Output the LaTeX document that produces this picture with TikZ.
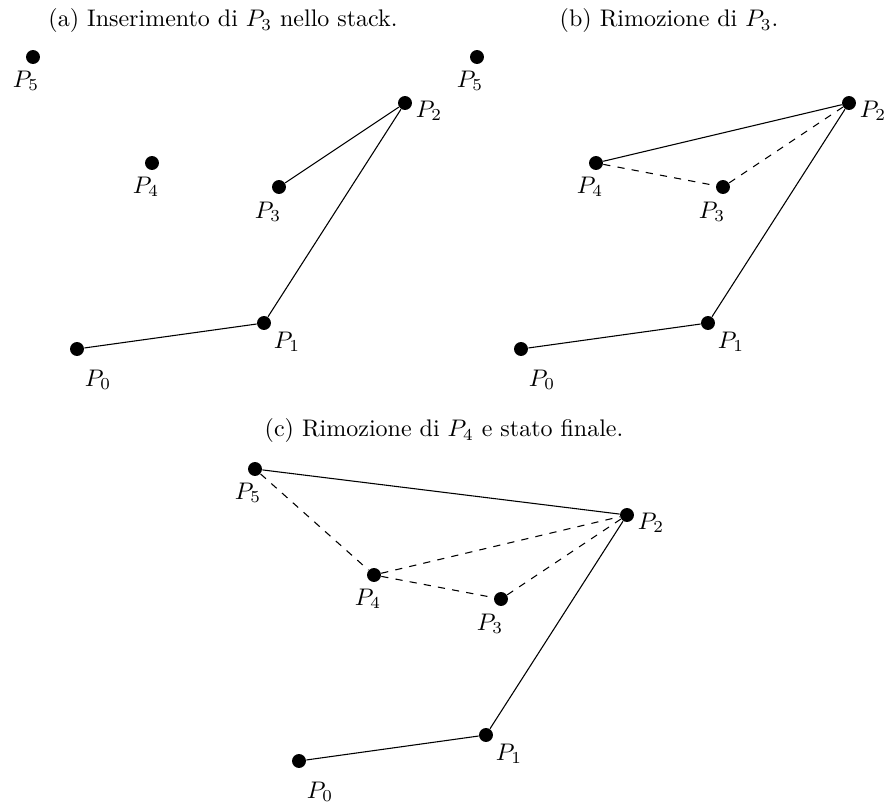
\documentclass[tikz,border=0pt]{standalone}
\begin{document}
\begin{tikzpicture}[x=0.41667pt,y=-0.41667pt,
  dot/.style={circle,fill=black,inner sep=0pt,minimum size=5.8pt},
  lab/.style={inner sep=0pt},
  seg/.style={line width=0.45pt},
  dseg/.style={line width=0.45pt,dashed},
  ttl/.style={anchor=base,inner sep=0pt}]
\useasboundingbox (0,0) rectangle (885,802);
\newcommand\mypts[1]{%
  \node[dot] (#1p0) at (77,349) {};
  \node[dot] (#1p1) at (264,323) {};
  \node[dot] (#1p2) at (405,103) {};
  \node[dot] (#1p3) at (279,187) {};
  \node[dot] (#1p4) at (152,163) {};
  \node[dot] (#1p5) at (33,57) {};
  \node[lab] (#1l0) at ([shift={(21,31)}]#1p0.center) {$P_0$};
  \node[lab] (#1l1) at ([shift={(23,19)}]#1p1.center) {$P_1$};
  \node[lab] (#1l2) at ([shift={(24,8)}]#1p2.center) {$P_2$};
  \node[lab] (#1l3) at ([shift={(-11,25)}]#1p3.center) {$P_3$};
  \node[lab] (#1l4) at ([shift={(-6,24)}]#1p4.center) {$P_4$};
  \node[lab] (#1l5) at ([shift={(-7,24)}]#1p5.center) {$P_5$};
}
% (a)
\node[ttl] (ta) at (223,27) {(a) Inserimento di $P_3$ nello stack.};
\begin{scope}
\mypts{a}
\draw[seg] (ap0) -- (ap1) -- (ap2) -- (ap3);
\end{scope}
% (b)
\node[ttl] (tb) at (669,27) {(b) Rimozione di $P_3$.};
\begin{scope}[shift={(444,0)}]
\mypts{b}
\draw[seg] (bp0) -- (bp1) -- (bp2) -- (bp4);
\draw[dseg] (bp4) -- (bp3) -- (bp2);
\end{scope}
% (c)
\node[ttl] (tc) at (444,437) {(c) Rimozione di $P_4$ e stato finale.};
\begin{scope}[shift={(222,412)}]
\mypts{c}
\draw[seg] (cp0) -- (cp1) -- (cp2) -- (cp5);
\draw[dseg] (cp5) -- (cp4) -- (cp3) -- (cp2);
\draw[dseg] (cp4) -- (cp2);
\end{scope}
\end{tikzpicture}
\end{document}
